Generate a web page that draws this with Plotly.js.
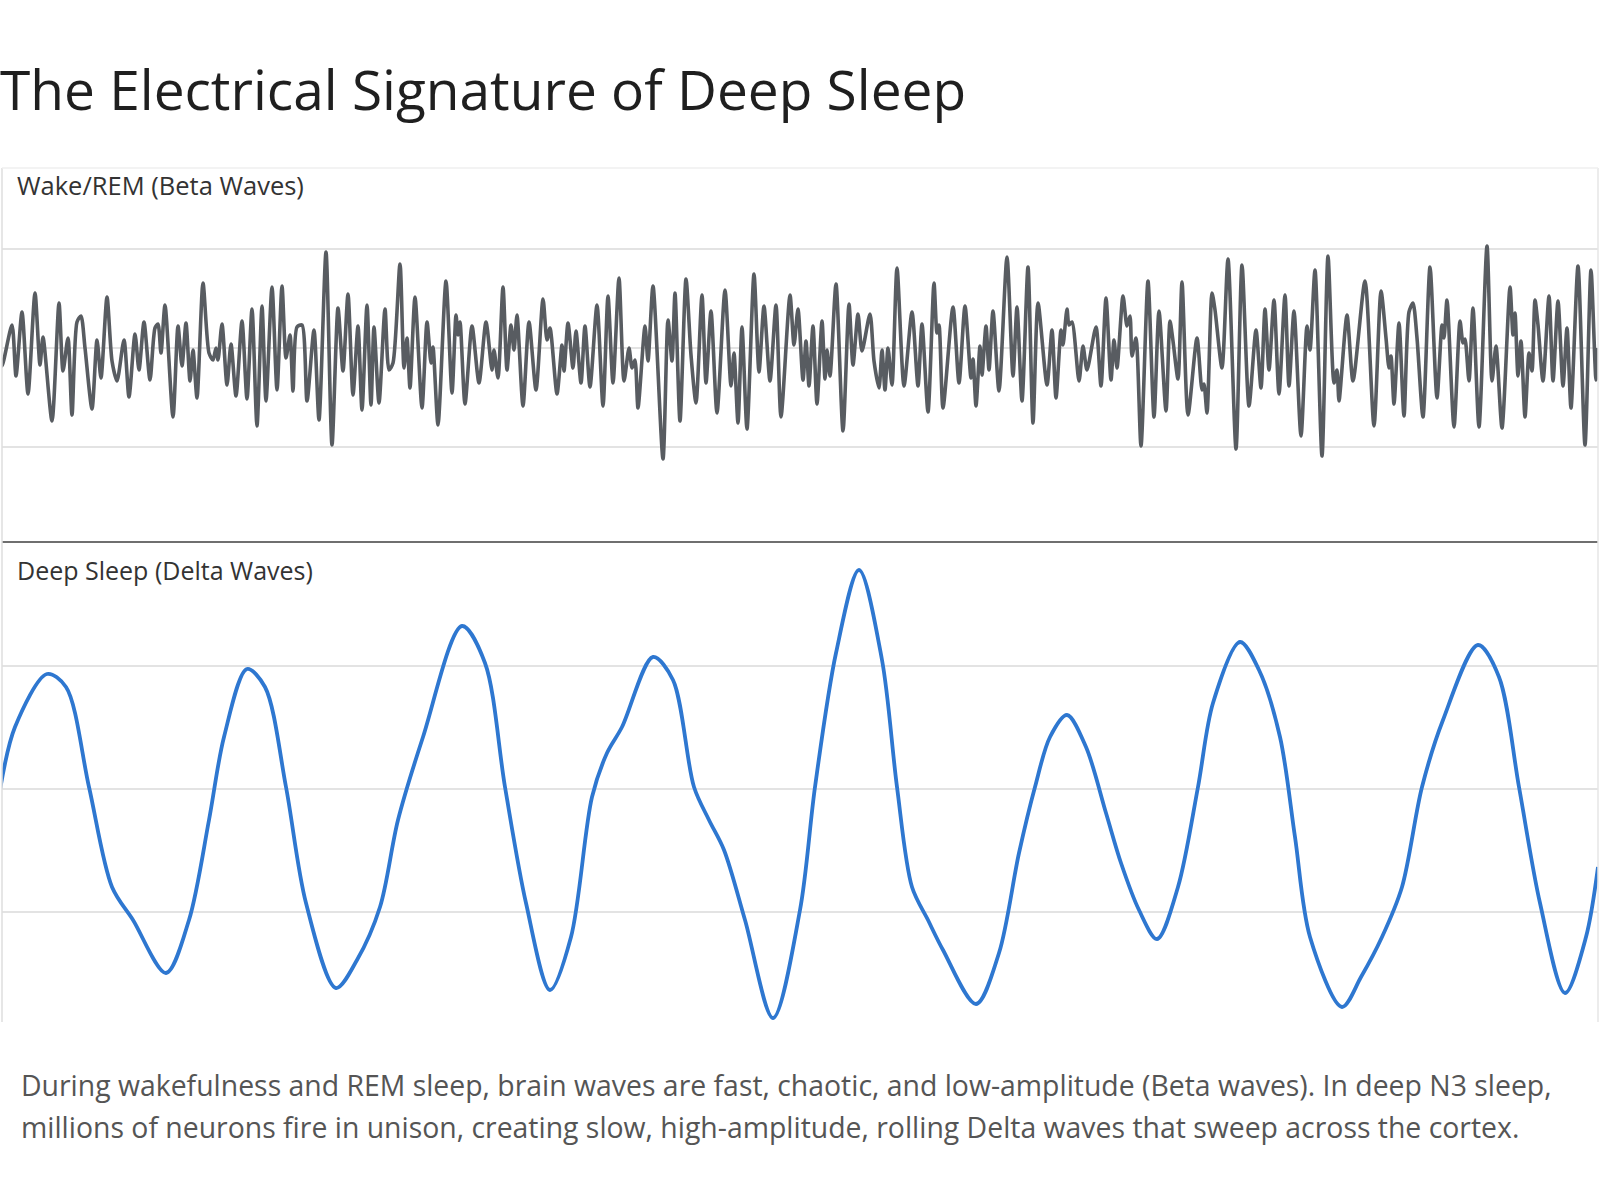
<!DOCTYPE html>
<html>
<head>
<meta charset="utf-8">
<script src="https://cdn.plot.ly/plotly-3.0.1.min.js"></script>
<style>
  html, body { margin: 0; padding: 0; background: #ffffff; }
  #chart { width: 1600px; height: 1200px; }
</style>
</head>
<body>
<div id="chart"></div>
<script>
// ---- Data ----
const chartTitle = "The Electrical Signature of Deep Sleep";
const betaLabel = "Wake/REM (Beta Waves)";
const deltaLabel = "Deep Sleep (Delta Waves)";
const captionLines = [
  "During wakefulness and REM sleep, brain waves are fast, chaotic, and low-amplitude (Beta waves). In deep N3 sleep,",
  "millions of neurons fire in unison, creating slow, high-amplitude, rolling Delta waves that sweep across the cortex."
];

// Beta (Wake/REM) trace: time samples and amplitude
const betaTime = [
  0,2,12,16,22,28,35,40,43,52,59,63,68,72,77,81,85,92,97,101,107,112,117,124,129,135,139,144,150,155,
  158,161,165,173,178,182,186,190,193,197,203,209,213,216,218,222,227,231,236,242,247,252,257,262,266,272,277,282,286,290,
  293,297,302,307,314,319,326,332,338,343,348,353,358,362,367,371,374,379,385,389,393,400,
  404,407,410,415,422,427,431,433,438,446,452,456,458,460,465,472,479,486,492,494,
  498,503,507,511,514,517,523,529,536,543,547,550,557,562,564,568,573,576,581,585,
  590,597,603,608,613,619,624,629,632,635,638,645,648,653,663,668,672,675,680,686,
  691,696,702,706,711,717,725,731,734,738,742,747,754,759,764,770,776,781,790,794,798,
  803,806,809,813,817,822,825,827,830,836,843,849,853,858,862,870,874,879,882,885,
  888,892,897,904,912,918,922,928,934,937,939,943,953,959,965,971,973,976,980,982,
  986,989,993,999,1007,1013,1017,1022,1028,1033,1038,1047,1052,1056,1061,1063,1067,1069,1072,1079,
  1083,1087,1096,1101,1106,1111,1114,1117,1123,1127,1130,1132,1136,1141,1148,1154,1159,1166,1170,1173,
  1178,1182,1188,1197,
  1202,1204,1207,1212,1215,1222,1228,1236,1242,1249,1256,1261,1265,1269,1274,1279,1285,1289,1294,1301,
  1307,1310,1315,1322,1328,1334,1337,1339,1347,1353,1365,1374,1381,1386,1389,1391,1394,1399,1404,1409,
  1413,1417,1423,1430,1437,1442,1444,1447,1454,1460,1463,1465,1469,1473,1479,1487,1492,1496,1502,1510,
  1513,1515,1518,1521,1525,1529,1532,1535,1538,1543,1549,1553,1558,1563,1567,1571,1578,1585,1591,1596,1598
];
const betaAmp = [
  -7,-18,23,-28,36,-46,55,-17,11,-73,45,-23,10,-67,26,32,0,-61,8,-30,51,-13,-33,8,-49,14,-22,26,-32,20,
  24,-5,43,-69,22,-18,25,-33,-2,-50,65,-5,-12,0,-12,24,-37,4,-48,27,-51,39,-78,42,-53,61,-42,62,-10,13,
  -43,21,23,-53,18,-72,96,-97,40,-23,54,-47,22,-62,43,-57,21,-55,39,-22,-15,84,
  -20,10,-40,51,-60,26,-15,1,-77,67,-45,33,13,26,-56,22,-35,26,-22,-2,
  -30,61,-22,23,-2,33,-58,26,-42,49,8,20,-46,3,-23,25,-20,17,-35,22,
  -39,43,-58,52,-35,70,-33,0,-20,-12,-60,22,-13,62,-111,28,-13,55,-73,69,
  -7,-55,53,-35,37,-65,58,-38,-5,-75,21,-81,74,-24,42,-33,43,-69,53,3,39,
  -32,7,-38,22,-56,27,-31,-2,-28,64,-83,44,-17,34,-3,34,-13,-40,-2,-42,
  0,-37,80,-38,36,-38,24,-64,65,15,23,-60,41,-35,42,-30,-11,-58,2,-27,
  22,-22,37,-43,91,-28,41,-53,81,-75,45,-37,18,-50,18,3,39,23,26,-33,
  2,-22,21,-38,50,-32,8,-20,52,22,32,-8,10,-98,67,-69,37,-63,27,7,
  -31,66,-67,10,
  -42,-36,-65,55,38,-20,89,-101,83,-58,18,-40,39,-22,48,-46,53,-38,37,-88,
  22,-2,78,-108,92,-35,-22,-53,33,-33,67,-78,57,10,-20,-8,-56,25,-68,36,
  45,10,-69,81,-50,23,10,48,-79,27,5,9,-33,40,-79,102,-33,2,-80,61,
  13,35,-28,7,-69,-5,-23,48,23,-33,52,-33,47,-38,20,-60,82,-97,78,-32,0
];

// Delta (Deep Sleep) trace: time samples and amplitude
const deltaTime = [
  0,15,47,66,89,112,133,166,189,209,224,247,265,286,306,336,357,380,398,423,
  462,485,505,526,550,571,592,607,622,653,673,694,709,724,745,773,800,815,836,859,
  882,897,912,928,943,976,999,1019,1035,1050,1067,1086,1106,1121,1139,1157,1178,1198,1213,1240,
  1259,1280,1295,1310,1342,1361,1382,1402,1422,1443,1478,1499,1519,1540,1565,1586,1598
];
const deltaAmp = [
  -1,62,115,102,2,-98,-131,-184,-131,-31,52,120,102,2,-114,-199,-171,-118,-31,52,
  163,126,2,-114,-201,-148,-8,36,62,132,109,2,-31,-61,-131,-229,-121,2,136,219,
  129,2,-98,-131,-161,-215,-164,-64,2,52,74,42,-24,-74,-121,-150,-98,2,86,147,
  119,52,-48,-148,-218,-188,-148,-98,2,69,144,112,2,-114,-204,-148,-78
];

const betaGrid = [-99, 0, 99];
const deltaGrid = [-123, 0, 123];

// ---- Chart ----
const traces = [
  {
    x: betaTime, y: betaAmp, xaxis: 'x', yaxis: 'y',
    type: 'scatter', mode: 'lines',
    line: { color: '#585c61', width: 3.6, shape: 'spline', smoothing: 0.7 },
    hoverinfo: 'skip'
  },
  {
    x: deltaTime, y: deltaAmp, xaxis: 'x2', yaxis: 'y2',
    type: 'scatter', mode: 'lines',
    line: { color: '#2e77d0', width: 3.8, shape: 'spline', smoothing: 0.9 },
    hoverinfo: 'skip'
  }
];

// plot area: x 2..1598, y 168..1022 (px)
const H = 854;
const ySep = (1022 - 542) / H;
const FONT = '"Open Sans", Roboto, sans-serif';

const layout = {
  width: 1600, height: 1200,
  margin: { l: 2, r: 2, t: 168, b: 178 },
  paper_bgcolor: '#ffffff', plot_bgcolor: '#ffffff',
  showlegend: false,
  font: { family: FONT },
  title: {
    text: chartTitle,
    x: 0, xref: 'container', xanchor: 'left',
    y: 1 - 91 / 1200, yref: 'container', yanchor: 'middle',
    font: { family: FONT, size: 55, color: '#1f1f1f' }
  },
  xaxis: { domain: [0, 1], range: [2, 1598], showgrid: false, zeroline: false, showticklabels: false, ticks: '', showline: false, fixedrange: true, anchor: 'y' },
  xaxis2: { domain: [0, 1], range: [2, 1598], showgrid: false, zeroline: false, showticklabels: false, ticks: '', showline: false, fixedrange: true, anchor: 'y2' },
  yaxis: {
    domain: [(1022 - 541) / H, 1], range: [-193, 180],
    tickmode: 'array', tickvals: betaGrid, showticklabels: false, ticks: '',
    showgrid: true, gridcolor: '#e3e3e3', gridwidth: 1.5, zeroline: false, showline: false, fixedrange: true, anchor: 'x'
  },
  yaxis2: {
    domain: [0, (1022 - 543) / H], range: [-233, 246],
    tickmode: 'array', tickvals: deltaGrid, showticklabels: false, ticks: '',
    showgrid: true, gridcolor: '#e3e3e3', gridwidth: 1.5, zeroline: false, showline: false, fixedrange: true, anchor: 'x2'
  },
  shapes: [
    { type: 'line', xref: 'paper', yref: 'paper', x0: 0, x1: 1, y0: ySep, y1: ySep, line: { color: '#6f6f6f', width: 2 }, layer: 'above' },
    { type: 'line', xref: 'paper', yref: 'paper', x0: 0, x1: 0, y0: 0.0, y1: 1, line: { color: '#dedede', width: 1.5 } },
    { type: 'line', xref: 'paper', yref: 'paper', x0: 1, x1: 1, y0: 0.0, y1: 1, line: { color: '#e6e6e6', width: 1.5 } },
    { type: 'line', xref: 'paper', yref: 'paper', x0: 0, x1: 1, y0: 1, y1: 1, line: { color: '#efefef', width: 1.5 } }
  ],
  annotations: [
    { text: betaLabel, xref: 'paper', yref: 'paper', x: (15 - 2) / 1596, y: (1022 - 185) / H, xanchor: 'left', yanchor: 'middle', showarrow: false, font: { size: 25.5, color: '#333333' } },
    { text: deltaLabel, xref: 'paper', yref: 'paper', x: (15 - 2) / 1596, y: (1022 - 570) / H, xanchor: 'left', yanchor: 'middle', showarrow: false, font: { size: 25, color: '#333333' } },
    { text: captionLines[0], xref: 'paper', yref: 'paper', x: (19 - 2) / 1596, y: (1022 - 1085) / H, xanchor: 'left', yanchor: 'middle', showarrow: false, font: { size: 28.4, color: '#555555' } },
    { text: captionLines[1], xref: 'paper', yref: 'paper', x: (19 - 2) / 1596, y: (1022 - 1127) / H, xanchor: 'left', yanchor: 'middle', showarrow: false, font: { size: 28.4, color: '#555555' } }
  ]
};

Plotly.newPlot('chart', traces, layout, { staticPlot: true, displayModeBar: false });
</script>
</body>
</html>
